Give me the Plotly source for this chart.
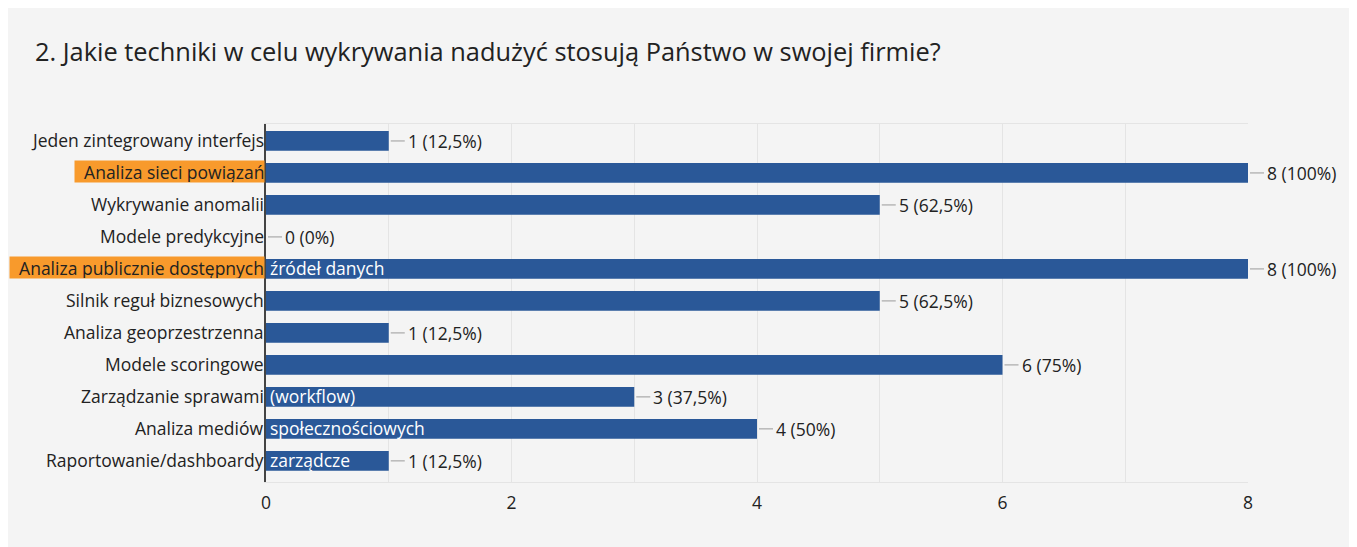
import plotly.graph_objects as go

title_text = "2. Jakie techniki w celu wykrywania nadużyć stosują Państwo w swojej firmie?"
categories = [
    "Jeden zintegrowany interfejs",
    "Analiza sieci powiązań",
    "Wykrywanie anomalii",
    "Modele predykcyjne",
    "Analiza publicznie dostępnych źródeł danych",
    "Silnik reguł biznesowych",
    "Analiza geoprzestrzenna",
    "Modele scoringowe",
    "Zarządzanie sprawami (workflow)",
    "Analiza mediów społecznościowych",
    "Raportowanie/dashboardy zarządcze",
]
label_left = [
    "Jeden zintegrowany interfejs",
    "Analiza sieci powiązań",
    "Wykrywanie anomalii",
    "Modele predykcyjne",
    "Analiza publicznie dostępnych",
    "Silnik reguł biznesowych",
    "Analiza geoprzestrzenna",
    "Modele scoringowe",
    "Zarządzanie sprawami",
    "Analiza mediów",
    "Raportowanie/dashboardy",
]
label_right = ["", "", "", "", "źródeł danych", "", "", "", "(workflow)", "społecznościowych", "zarządcze"]
highlighted = [False, True, False, False, True, False, False, False, False, False, False]
values = [1, 8, 5, 0, 8, 5, 1, 6, 3, 4, 1]
total_respondents = 8
x_ticks = [0, 2, 4, 6, 8]

FONT = "Open Sans"
FS = 17.5
BAR = "#2a5898"
ORANGE = "#f89a2c"
CARD = "#f4f4f4"
TXT = "#222222"
GRID = "#e4e4e4"

W, H = 1349, 539
L, R, T, B = 258, 109, 116, 65
PW, PH = W - L - R, H - T - B


def pct(v):
    p = v / total_respondents * 100
    s = f"{p:.1f}".rstrip("0").rstrip(".").replace(".", ",")
    return f"{v} ({s}%)"


fig = go.Figure()
fig.add_trace(go.Bar(
    x=values, y=categories, orientation="h",
    marker=dict(color=BAR, line=dict(width=0)),
    width=0.62, hoverinfo="skip",
))

annotations = []
shapes = [dict(type="rect", xref="paper", yref="paper",
               x0=(0 - L) / PW, x1=(1344 - L) / PW,
               y0=(T + PH - (H + 20)) / PH, y1=(T + PH) / PH,
               fillcolor=CARD, line=dict(width=0), layer="below")]

for i, cat in enumerate(categories):
    left = label_left[i]
    hl = highlighted[i]
    if hl:
        left = "\u00a0\u00a0" + left
    ann = dict(
        x=0, y=cat, xref="paper", yref="y", text=left, showarrow=False,
        xanchor="right", yanchor="middle", xshift=-1, yshift=1,
        font=dict(family=FONT, size=FS, color=TXT), borderpad=0,
    )
    if hl:
        ann.update(bgcolor=ORANGE, height=21, valign="middle")
    annotations.append(ann)
    if label_right[i]:
        annotations.append(dict(
            x=0, y=cat, xref="x", yref="y", text=label_right[i], showarrow=False,
            xanchor="left", yanchor="middle", xshift=2, yshift=1,
            font=dict(family=FONT, size=FS, color="#ffffff"),
        ))
    annotations.append(dict(
        x=values[i], y=cat, xref="x", yref="y", text=pct(values[i]),
        showarrow=True, arrowhead=0, arrowwidth=1, arrowcolor="#9a9a9a",
        ax=16, ay=0, standoff=2, xanchor="left", yanchor="middle", borderpad=2,
        font=dict(family=FONT, size=FS, color=TXT),
    ))

fig.update_layout(
    width=W, height=H,
    margin=dict(l=L, r=R, t=T, b=B),
    paper_bgcolor="#ffffff", plot_bgcolor=CARD,
    showlegend=False,
    title=dict(text=title_text, x=27 / W, xanchor="left", xref="container",
               y=1 - 44 / H, yanchor="middle", yref="container",
               font=dict(family=FONT, size=25.4, color=TXT)),
    annotations=annotations, shapes=shapes,
    font=dict(family=FONT, color=TXT),
)
fig.update_xaxes(range=[0, 8], tickvals=x_ticks, showgrid=True, gridcolor=GRID, gridwidth=1,
                 minor=dict(dtick=1, showgrid=True, gridcolor=GRID, gridwidth=1),
                 zeroline=False, showline=True, linecolor=GRID, mirror=True,
                 tickfont=dict(family=FONT, size=FS, color=TXT), ticks="", ticklabelstandoff=5)
fig.update_yaxes(range=[10.66, -0.53], showticklabels=False, showgrid=False, zeroline=False,
                 showline=True, linecolor="#444444", linewidth=2, ticks="")

fig.write_html("out.html")
